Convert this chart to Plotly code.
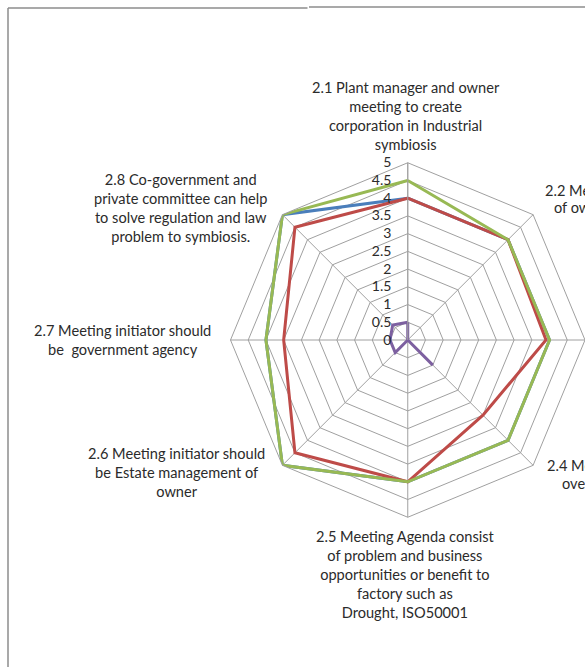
import plotly.graph_objects as go

categories = ["2.1", "2.2", "2.3", "2.4", "2.5", "2.6", "2.7", "2.8"]
series_blue = [4.0, 4.0, 4.0, 4.0, 4.0, 5.0, 4.0, 5.0]
series_red = [4.0, 4.0, 3.9, 3.0, 4.0, 4.5, 3.5, 4.5]
series_green = [4.5, 4.0, 4.0, 4.0, 4.0, 5.0, 4.0, 5.0]
series_purple = [0.5, 0.0, 0.0, 1.0, 0.0, 0.5, 0.5, 0.6]
radial_ticks = [0, 0.5, 1, 1.5, 2, 2.5, 3, 3.5, 4, 4.5, 5]
radial_labels = ["0", "0.5", "1", "1.5", "2", "2.5", "3", "3.5", "4", "4.5", "5"]

W, H = 585, 667
cx, cy, R = 408, 340, 177.5
GRID = "#a0a0a0"
FONT = "Lato"
TXT = "#2b2b2b"
FS = 14.6

fig = go.Figure()
for vals, col in [(series_blue, "#4A7EBB"), (series_red, "#BE4B48"),
                  (series_green, "#98B954"), (series_purple, "#7D60A0")]:
    fig.add_trace(go.Scatterpolar(
        r=vals + vals[:1], theta=categories + categories[:1],
        mode="lines", line=dict(color=col, width=3), showlegend=False))

x0 = (cx - R) / W
x1 = (cx + R) / W
y0 = (H - cy - R) / H
y1 = (H - cy + R) / H

fig.update_layout(
    width=W, height=H,
    margin=dict(l=0, r=0, t=0, b=0),
    paper_bgcolor="white", plot_bgcolor="white",
    font=dict(family=FONT, size=FS, color=TXT),
    polar=dict(
        domain=dict(x=[x0, min(x1, 1.0)], y=[y0, y1]),
        bgcolor="white",
        gridshape="linear",
        radialaxis=dict(range=[0, 5], tickvals=radial_ticks, ticktext=radial_labels,
                        angle=90, tickangle=90, side="counterclockwise",
                        showline=True, linecolor=GRID, linewidth=1,
                        gridcolor=GRID, gridwidth=1,
                        ticks="outside", ticklen=11, tickcolor="rgba(0,0,0,0)",
                        tickfont=dict(family=FONT, size=14, color=TXT)),
        angularaxis=dict(rotation=90, direction="clockwise",
                         showticklabels=False, ticks="",
                         showline=True, linecolor=GRID, linewidth=1,
                         gridcolor=GRID, gridwidth=1),
    ),
)

def px(x):
    return x / W

def py(y):
    return 1 - y / H

labels = [
    ("2.1 Plant manager and owner<br>meeting to create<br>corporation in Industrial<br>symbiosis", 406, 116, "center"),
    ("2.8 Co-government and<br>private committee can help<br>to solve regulation and law<br>problem to symbiosis.", 180, 208, "center"),
    ("2.7 Meeting initiator should<br>be  government agency", 122, 340, "center"),
    ("2.6 Meeting initiator should<br>be Estate management of<br>owner", 176, 473, "center"),
    ("2.5 Meeting Agenda consist<br>of problem and business<br>opportunities or benefit to<br>factory such as<br>Drought, ISO50001", 405, 574, "center"),
    ("2.2 Meeting initiator should", 543, 190, "left"),
    ("of owner", 552, 208, "left"),
    ("2.4 Meeting initiator should", 545, 465, "left"),
    ("over", 560, 483, "left"),
]
for text, x, y, al in labels:
    fig.add_annotation(text=text, x=px(x), y=py(y), xref="paper", yref="paper",
                       xanchor="center" if al == "center" else "left",
                       yanchor="middle", align=al, showarrow=False,
                       font=dict(family=FONT, size=FS, color=TXT))

# outer frame
fig.add_shape(type="line", xref="paper", yref="paper", x0=px(8), x1=px(8), y0=py(8), y1=py(H + 5),
              line=dict(color="#8c8c8c", width=1.5))
fig.add_shape(type="line", xref="paper", yref="paper", x0=px(8), x1=px(307.5), y0=py(8), y1=py(8),
              line=dict(color="#8c8c8c", width=1.5))
fig.add_shape(type="line", xref="paper", yref="paper", x0=px(309), x1=px(W + 5), y0=py(7), y1=py(7),
              line=dict(color="#8c8c8c", width=1.5))

fig.write_html("out.html")
